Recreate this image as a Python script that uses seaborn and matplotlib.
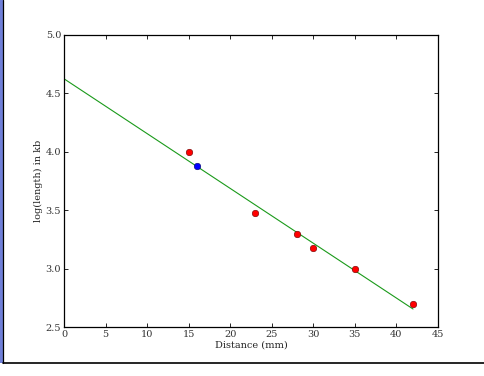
import matplotlib
matplotlib.use("Agg")
import matplotlib.pyplot as plt
import seaborn as sns
import pandas as pd
from matplotlib.patches import Rectangle
from matplotlib.lines import Line2D

# measured points
dist_red = [15, 23, 28, 30, 35, 42]
logkb_red = [4.0, 3.48, 3.30, 3.18, 3.0, 2.70]
dist_blue = [16]
logkb_blue = [3.88]

# fitted line, endpoints
fit_x = [0, 42]
fit_y = [4.625, 2.655]

sns.set_style("ticks")
plt.rcParams["font.family"] = ["DejaVu Serif"]
plt.rcParams["xtick.direction"] = "in"
plt.rcParams["ytick.direction"] = "in"
plt.rcParams["xtick.top"] = True
plt.rcParams["ytick.right"] = True

fig = plt.figure(figsize=(4.85, 3.76), dpi=100)
ax = fig.add_axes([0.132, 0.130, 0.771, 0.777])

red = pd.DataFrame({"d": dist_red, "y": logkb_red})
blue = pd.DataFrame({"d": dist_blue, "y": logkb_blue})
line = pd.DataFrame({"d": fit_x, "y": fit_y})

sns.lineplot(data=line, x="d", y="y", ax=ax, color="#1a9a1a", lw=0.8, zorder=2)
sns.scatterplot(data=red, x="d", y="y", ax=ax, color="red", s=22,
                edgecolor="#660000", linewidth=0.4, zorder=3)
sns.scatterplot(data=blue, x="d", y="y", ax=ax, color="blue", s=22,
                edgecolor="#000066", linewidth=0.4, zorder=3)

ax.set_xlim(0, 45)
ax.set_ylim(2.5, 5.0)
ax.set_xticks(range(0, 46, 5))
ax.set_yticks([2.5, 3.0, 3.5, 4.0, 4.5, 5.0])
ax.set_yticklabels(["2.5", "3.0", "3.5", "4.0", "4.5", "5.0"])
ax.tick_params(labelsize=7, length=3, width=0.6, pad=2, colors="black")
ax.tick_params(axis="y", labelcolor="#333333")
ax.tick_params(axis="x", labelcolor="#333333")
for s in ax.spines.values():
    s.set_linewidth(0.9)
    s.set_color("black")
ax.set_xlabel("Distance (mm)", fontsize=7, labelpad=1, color="#222222")
ax.set_ylabel("log(length) in kb", fontsize=7, labelpad=2, color="#222222")

# page frame around the screenshot
fig.add_artist(Rectangle((0, (376 - 363) / 376), 3 / 485, 363 / 376,
                         transform=fig.transFigure, facecolor="#6f7fd8",
                         edgecolor="none"))
fig.add_artist(Line2D([3.5 / 485, 3.5 / 485], [1, (376 - 363) / 376],
                      transform=fig.transFigure, color="black", lw=0.9))
fig.add_artist(Line2D([3.5 / 485, 1], [(376 - 362.5) / 376] * 2,
                      transform=fig.transFigure, color="black", lw=1.2))

fig.savefig("out.png", dpi=100)
